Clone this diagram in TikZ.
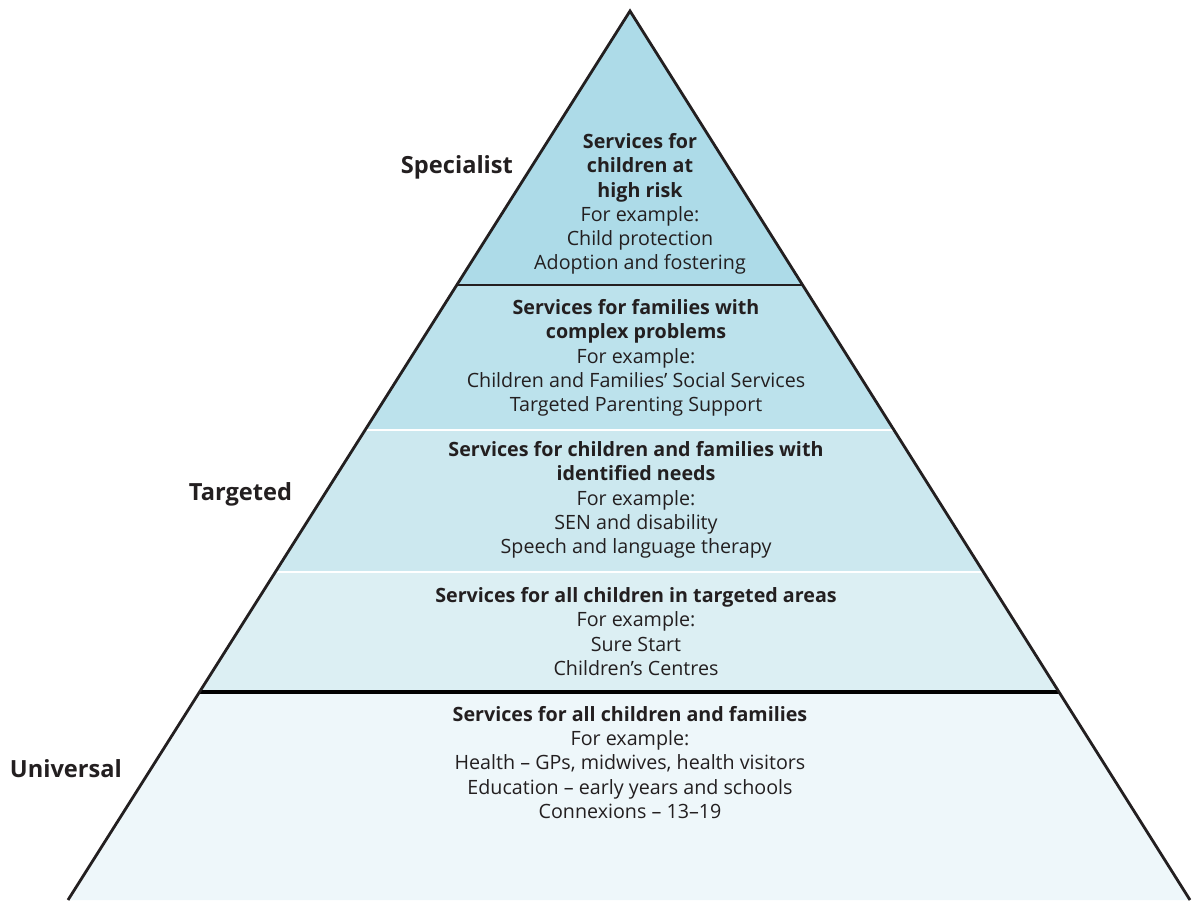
\documentclass[tikz,border=0pt]{standalone}
\usepackage{fontspec}
\setmainfont{Open Sans}
\usetikzlibrary{calc}

\definecolor{bandA}{HTML}{ADDBE8}
\definecolor{bandB}{HTML}{BCE2EC}
\definecolor{bandC}{HTML}{CCE8EF}
\definecolor{bandD}{HTML}{DCEFF3}
\definecolor{bandE}{HTML}{EEF7FA}
\definecolor{ink}{HTML}{231F20}

\tikzset{
  band text/.style={align=center, text=ink, font=\fontsize{14}{17.2}\selectfont},
  level label/.style={anchor=west, text=ink, font=\fontsize{16.8}{20}\selectfont\bfseries},
}

\begin{document}
\begin{tikzpicture}[x=0.025cm,y=-0.025cm]
  \useasboundingbox (0,0) rectangle (1200,900);

  \coordinate (apex) at (630,11);
  \coordinate (bl) at (68,900);
  \coordinate (br) at (1190,900);

  % band edges, as fractions down the sides
  \foreach \n/\t in {a/0.3082, b/0.4713, c/0.6310, d/0.7660} {
    \coordinate (l\n) at ($(apex)!\t!(bl)$);
    \coordinate (r\n) at ($(apex)!\t!(br)$);
  }

  \fill [bandA] (apex) -- (ra) -- (la) -- cycle;
  \fill [bandB] (la) -- (ra) -- (rb) -- (lb) -- cycle;
  \fill [bandC] (lb) -- (rb) -- (rc) -- (lc) -- cycle;
  \fill [bandD] (lc) -- (rc) -- (rd) -- (ld) -- cycle;
  \fill [bandE] (ld) -- (rd) -- (br) -- (bl) -- cycle;

  \draw [white, line width=1.3pt] (lb) -- (rb);
  \draw [white, line width=1.3pt] (lc) -- (rc);
  \draw [ink, line width=1.6pt] (la) -- (ra);
  \draw [black, line width=2.4pt] (ld) -- (rd);
  \draw [ink, line width=2pt, line join=miter] (bl) -- (apex) -- (br);

  \node [band text] (risk) at (640,204)
    {\textbf{Services for}\\ \textbf{children at}\\ \textbf{high risk}\\
     For example:\\ Child protection\\ Adoption and fostering};

  \node [band text] (complex) at (636,358)
    {\textbf{Services for families with}\\ \textbf{complex problems}\\
     For example:\\ Children and Families’ Social Services\\ Targeted Parenting Support};

  \node [band text] (needs) at (636,500)
    {\textbf{Services for children and families with}\\ \textbf{identified needs}\\
     For example:\\ SEN and disability\\ Speech and language therapy};

  \node [band text] (areas) at (636,631.5)
    {\textbf{Services for all children in targeted areas}\\
     For example:\\ Sure Start\\ Children’s Centres};

  \node [band text] (all) at (630,762.5)
    {\textbf{Services for all children and families}\\
     For example:\\ Health – GPs, midwives, health visitors\\
     Education – early years and schools\\ Connexions – 13–19};

  \node [level label] (specialist) at (396,167) {Specialist};
  \node [level label] (targeted) at (184,494) {Targeted};
  \node [level label] (universal) at (5,769) {Universal};
\end{tikzpicture}
\end{document}
